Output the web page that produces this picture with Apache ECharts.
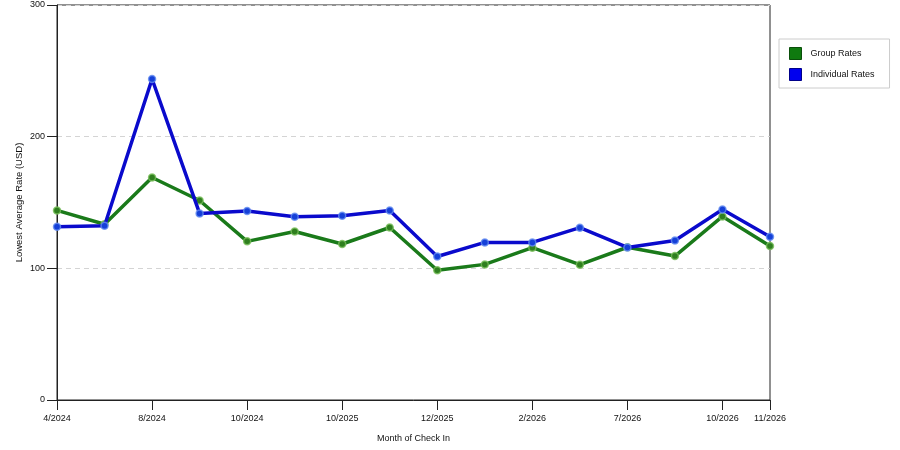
<!DOCTYPE html>
<html lang="en">
<head>
    <meta charset="UTF-8">
    <title>Lowest Average Rate</title>
    <style>
        html, body { margin: 0; padding: 0; background: #fff; }
    </style>
</head>
<body>
    <div id="main" style="width: 900px;height:450px;"></div>
    <script src="https://cdn.jsdelivr.net/npm/echarts@6/dist/echarts.min.js"></script>
    <script>
    // months on the x axis; unlabeled ticks left blank
    var months = ['4/2024', '', '8/2024', '', '10/2024', '', '10/2025', '', '12/2025', '', '2/2026', '', '7/2026', '', '10/2026', '11/2026'];
    var groupRates = [144, 133.5, 169, 151.5, 120.5, 128, 118.5, 131, 98.5, 103, 115.7, 102.8, 116, 109.3, 139.4, 117];
    var individualRates = [131.5, 132.3, 243.8, 141.7, 143.6, 139.2, 140, 143.9, 109, 119.7, 119.7, 130.9, 115.9, 121.2, 144.7, 124];
    var yTicks = [0, 100, 200, 300];

    var font = 'Liberation Sans, Arial, sans-serif';
    var myChart = echarts.init(document.getElementById('main'));

    function hasLabel(index, value) {
        return months[index] !== '';
    }

    var option = {
        animation: false,
        backgroundColor: '#fff',
        textStyle: { fontFamily: font },
        grid: {
            left: 57,
            right: 130,
            top: 5,
            bottom: 50,
            show: true,
            borderColor: '#222',
            borderWidth: 1
        },
        legend: {
            orient: 'vertical',
            left: 779,
            top: 39,
            padding: [8, 15, 7, 10],
            itemWidth: 12,
            itemHeight: 12,
            itemGap: 8,
            icon: 'rect',
            borderColor: '#ccc',
            borderWidth: 1,
            backgroundColor: '#fff',
            textStyle: { fontSize: 9, color: '#111', fontFamily: font, padding: [0, 0, 0, 4] },
            data: [
                { name: 'Group Rates', itemStyle: { color: '#0f7a0f', borderColor: '#0a4f0a', borderWidth: 1 } },
                { name: 'Individual Rates', itemStyle: { color: '#0000ee', borderColor: '#00008a', borderWidth: 1 } }
            ]
        },
        xAxis: {
            type: 'category',
            data: months,
            boundaryGap: false,
            name: 'Month of Check In',
            nameLocation: 'middle',
            nameGap: 34,
            nameMoveOverlap: false,
            nameTextStyle: { fontSize: 9, color: '#111', fontFamily: font },
            axisLine: { lineStyle: { color: '#222', width: 1 } },
            axisTick: { show: true, length: 10, interval: hasLabel, lineStyle: { color: '#222' } },
            axisLabel: { interval: hasLabel, fontSize: 9, color: '#111', margin: 14, fontFamily: font },
            splitLine: { show: false }
        },
        yAxis: {
            type: 'value',
            min: yTicks[0],
            max: yTicks[yTicks.length - 1],
            interval: 100,
            name: 'Lowest Average Rate (USD)',
            nameLocation: 'middle',
            nameGap: 33,
            nameMoveOverlap: false,
            nameTextStyle: { fontSize: 9.5, color: '#111', fontFamily: font },
            axisLine: { show: true, lineStyle: { color: '#222', width: 1 } },
            axisTick: { show: true, length: 10, lineStyle: { color: '#222' } },
            axisLabel: { fontSize: 9, color: '#111', margin: 12, fontFamily: font },
            splitLine: { show: true, lineStyle: { color: '#d4d4d4', type: [5, 4], width: 1 } }
        },
        series: [
            {
                name: 'Group Rates',
                type: 'line',
                data: groupRates,
                symbol: 'circle',
                symbolSize: 7,
                lineStyle: { color: '#1a7a1a', width: 3.5 },
                itemStyle: { color: '#2f7f1f', borderColor: 'rgba(120,190,90,0.8)', borderWidth: 1.5 },
                z: 2
            },
            {
                name: 'Individual Rates',
                type: 'line',
                data: individualRates,
                symbol: 'circle',
                symbolSize: 7,
                lineStyle: { color: '#0a0acc', width: 3.5 },
                itemStyle: { color: '#1540d8', borderColor: 'rgba(100,140,240,0.8)', borderWidth: 1.5 },
                z: 3
            }
        ]
    };
    myChart.setOption(option);
    </script>
</body>
</html>
